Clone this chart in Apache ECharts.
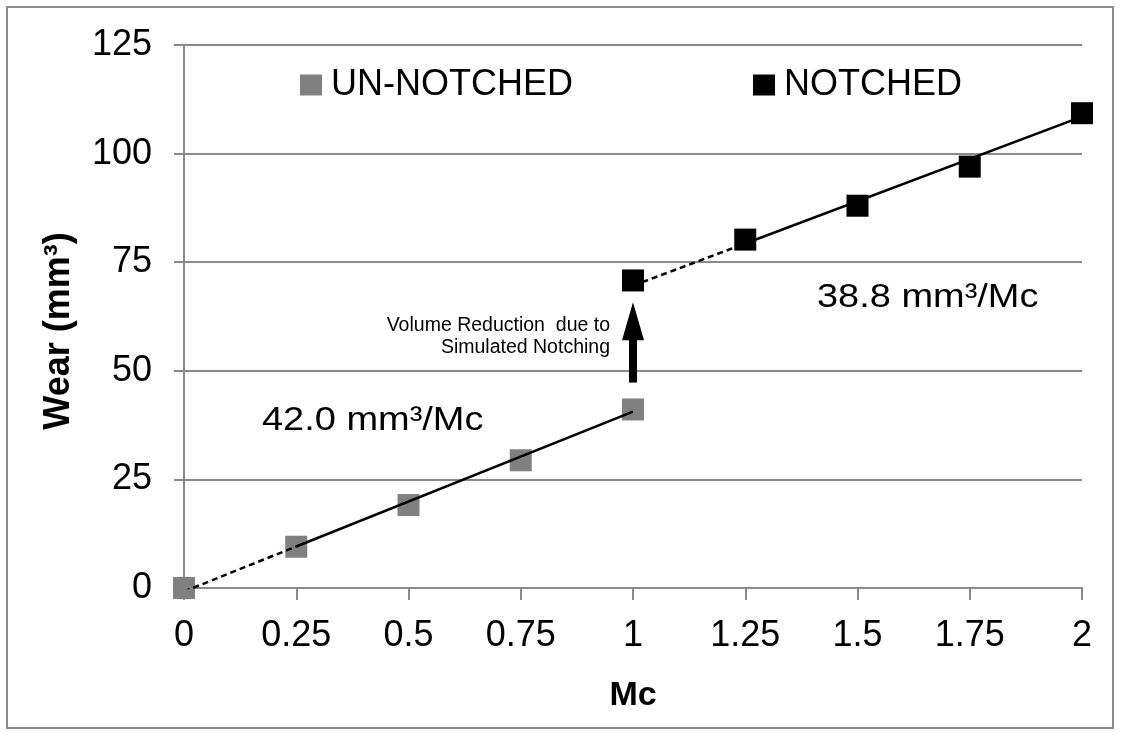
<!DOCTYPE html>
<html>
<head>
<meta charset="utf-8">
<script src="https://cdn.jsdelivr.net/npm/echarts@6/dist/echarts.min.js"></script>
<style>html,body{margin:0;padding:0;background:#fff;}#c{width:1122px;height:736px;}</style>
</head>
<body>
<div id="c"></div>
<script>
// ---- data ----
const xTicks = [0, 0.25, 0.5, 0.75, 1, 1.25, 1.5, 1.75, 2];
const unNotchedX = [0, 0.25, 0.5, 0.75, 1];
const unNotchedY = [0, 9.5, 19.1, 29.4, 41.1];
const notchedX = [1, 1.25, 1.5, 1.75, 2];
const notchedY = [70.8, 80.2, 88.0, 97.0, 109.3];
// trend-line end points (dashed part, then solid part)
const unFitDashed = [[0, -0.8], [0.25, 9.55]];
const unFitSolid = [[0.25, 9.55], [1, 40.6]];
const notFitDashed = [[1, 69.6], [1.25, 79.3]];
const notFitSolid = [[1.25, 79.3], [2, 108.5]];
// arrow: x, from, to
const arrowData = [[1, 47.3, 65.8]];
const legendNames = ['UN-NOTCHED', 'NOTCHED'];

const FONT = '"Liberation Sans", Arial, sans-serif';
const chart = echarts.init(document.getElementById('c'), null, {renderer: 'canvas'});

const zip = (xs, ys) => xs.map((x, i) => [x, ys[i]]);

const option = {
  backgroundColor: '#fff',
  animation: false,
  textStyle: {fontFamily: FONT},
  grid: {left: 184, right: 40, top: 45, bottom: 148, containLabel: false},
  legend: [
    {data: [legendNames[0]], left: 300, top: 67, padding: 0, icon: 'rect', itemWidth: 22, itemHeight: 21,
     itemGap: 0, textStyle: {fontSize: 36, color: '#000', fontFamily: FONT, padding: [0, 0, 0, 4]}},
    {data: [legendNames[1]], left: 753, top: 67, padding: 0, icon: 'rect', itemWidth: 22, itemHeight: 21,
     itemGap: 0, textStyle: {fontSize: 36, color: '#000', fontFamily: FONT, padding: [0, 0, 0, 4]}}
  ],
  xAxis: {
    type: 'value', min: 0, max: 2, interval: 0.25,
    name: 'Mc', nameLocation: 'middle', nameGap: 91,
    nameTextStyle: {fontSize: 34, fontWeight: 'bold', color: '#000', fontFamily: FONT},
    axisLine: {show: true, onZero: true, lineStyle: {color: '#8a8a8a', width: 2}},
    axisTick: {show: true, inside: false, length: 12, lineStyle: {color: '#8a8a8a', width: 2}},
    axisLabel: {fontSize: 36, color: '#000', margin: 30, fontFamily: FONT,
      formatter: v => String(v)},
    splitLine: {show: false}
  },
  yAxis: {
    type: 'value', min: 0, max: 125, interval: 25,
    axisLine: {show: true, lineStyle: {color: '#8a8a8a', width: 2}},
    axisTick: {show: true, inside: false, length: 10, lineStyle: {color: '#8a8a8a', width: 2}},
    axisLabel: {fontSize: 36, color: '#000', margin: 32, fontFamily: FONT},
    splitLine: {show: true, lineStyle: {color: '#8a8a8a', width: 2}}
  },
  series: [
    {name: legendNames[0], type: 'scatter', symbol: 'rect', symbolSize: 22,
     itemStyle: {color: '#808080', opacity: 1}, data: zip(unNotchedX, unNotchedY), z: 2},
    {name: legendNames[1], type: 'scatter', symbol: 'rect', symbolSize: 22,
     itemStyle: {color: '#000', opacity: 1}, data: zip(notchedX, notchedY), z: 2},
    {type: 'line', data: unFitDashed, showSymbol: false, symbol: 'none', z: 3,
     lineStyle: {color: '#000', width: 2.5, type: [6, 4]}},
    {type: 'line', data: unFitSolid, showSymbol: false, symbol: 'none', z: 3,
     lineStyle: {color: '#000', width: 2.5}},
    {type: 'line', data: notFitDashed, showSymbol: false, symbol: 'none', z: 3,
     lineStyle: {color: '#000', width: 2.5, type: [6, 4]}},
    {type: 'line', data: notFitSolid, showSymbol: false, symbol: 'none', z: 3,
     lineStyle: {color: '#000', width: 2.5}},
    {type: 'custom', z: 4, data: arrowData,
     renderItem: (params, api) => {
       const p0 = api.coord([api.value(0), api.value(1)]);
       const p1 = api.coord([api.value(0), api.value(2)]);
       const headLen = 38, headHalf = 11, shaftHalf = 4;
       return {
         type: 'group',
         children: [
           {type: 'rect', shape: {x: p0[0] - shaftHalf, y: p1[1] + headLen - 1, width: shaftHalf * 2, height: p0[1] - (p1[1] + headLen - 1)},
            style: {fill: '#000'}},
           {type: 'polygon', shape: {points: [[p1[0] - headHalf, p1[1] + headLen], [p1[0] + headHalf, p1[1] + headLen], [p1[0], p1[1]]]},
            style: {fill: '#000'}}
         ]
       };
     }}
  ],
  graphic: [
    {type: 'rect', silent: true, z: -1, shape: {x: 7, y: 7, width: 1106, height: 721},
     style: {fill: null, stroke: '#8a8a8a', lineWidth: 2}},
    {type: 'text', x: 59, y: 331, rotation: Math.PI / 2,
     style: {text: 'Wear (mm³)', font: 'bold 36px ' + FONT, fill: '#000', align: 'center', verticalAlign: 'middle'}},
    {type: 'text', x: 262, y: 421, scaleX: 1.15,
     style: {text: '42.0 mm³/Mc', font: '33px ' + FONT, fill: '#000', align: 'left', verticalAlign: 'middle'}},
    {type: 'text', x: 817, y: 298, scaleX: 1.15,
     style: {text: '38.8 mm³/Mc', font: '33px ' + FONT, fill: '#000', align: 'left', verticalAlign: 'middle'}},
    {type: 'text', x: 610, y: 337,
     style: {text: 'Volume Reduction  due to\nSimulated Notching', font: '19.5px ' + FONT, lineHeight: 22,
             fill: '#000', align: 'right', verticalAlign: 'middle'}}
  ]
};
chart.setOption(option);
</script>
</body>
</html>
